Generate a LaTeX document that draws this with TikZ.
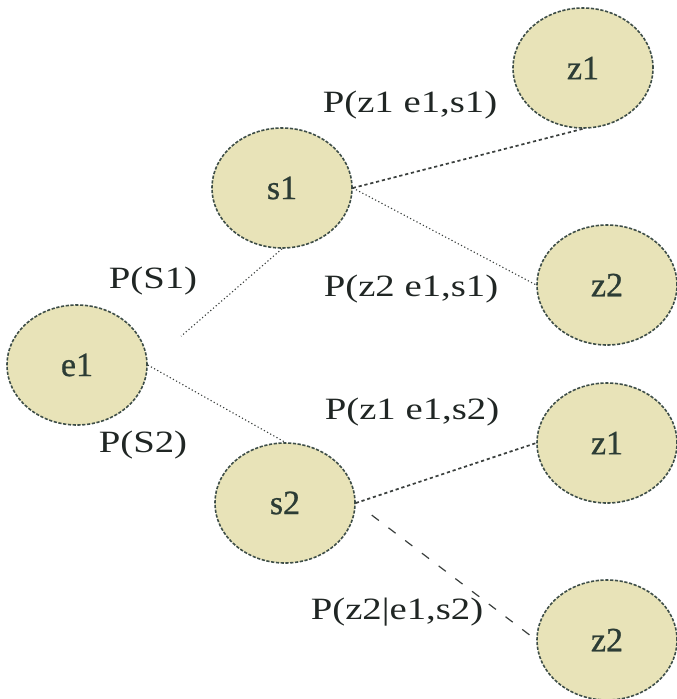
\documentclass[tikz,border=0pt]{standalone}
\usepackage{fontspec}
\setmainfont{Liberation Serif}
\newfontfamily\labfont[FakeStretch=1.25]{Liberation Serif}
\newfontfamily\nodefont[FakeBold=0.8]{Liberation Serif}
\usetikzlibrary{shapes.geometric}
\definecolor{fillc}{HTML}{E8E3B8}
\definecolor{bordc}{HTML}{3E4E48}
\definecolor{txtc}{HTML}{2C3C35}
\definecolor{labc}{HTML}{202624}
\definecolor{linec}{HTML}{3A3F3D}
\tikzset{
  state/.style={ellipse, draw=bordc, fill=fillc, dash pattern=on 1.6pt off 0.8pt,
    line width=0.8pt, minimum width=70pt, minimum height=60pt, inner sep=0pt,
    font=\nodefont\fontsize{17}{20}\selectfont, text=txtc},
  lab/.style={font=\labfont\fontsize{15.5}{18}\selectfont, text=labc, inner sep=0pt},
  fineline/.style={draw=linec, dash pattern=on 0.6pt off 1.2pt, line width=0.55pt},
  denseline/.style={draw=linec, dash pattern=on 1.6pt off 1.4pt, line width=0.85pt},
  looseline/.style={draw=linec, dash pattern=on 4.5pt off 6pt, line width=0.6pt}
}
\begin{document}
\begin{tikzpicture}[x=0.5pt,y=-0.5pt]
\useasboundingbox (0,0) rectangle (676,699);
% nodes
\node[state] (e1)  at (77,365)  {e1};
\node[state] (s1)  at (282,188) {s1};
\node[state] (s2)  at (285,503) {s2};
\node[state] (z1a) at (583,68)  {z1};
\node[state] (z2a) at (607,285) {z2};
\node[state] (z1b) at (607,443) {z1};
\node[state] (z2b) at (607,640) {z2};
% connectors
\draw[fineline, shorten >=22pt] (s1.south) -- (e1.east);
\draw[fineline] (e1.east) -- (s2.north);
\draw[denseline] (s1.east) -- (z1a.south);
\draw[fineline] (s1.east) -- (z2a.west);
\draw[denseline] (s2.east) -- (z1b.west);
\draw[looseline, shorten <=10pt] (s2.east) -- (z2b.west);
% labels
\node[lab] (l1) at (153,281) {P(S1)};
\node[lab] (l2) at (143,445) {P(S2)};
\node[lab] (l3) at (410,105) {P(z1 e1,s1)};
\node[lab] (l4) at (411,289) {P(z2 e1,s1)};
\node[lab] (l5) at (412,412) {P(z1 e1,s2)};
\node[lab] (l6) at (397,612) {P(z2|e1,s2)};
\end{tikzpicture}
\end{document}
